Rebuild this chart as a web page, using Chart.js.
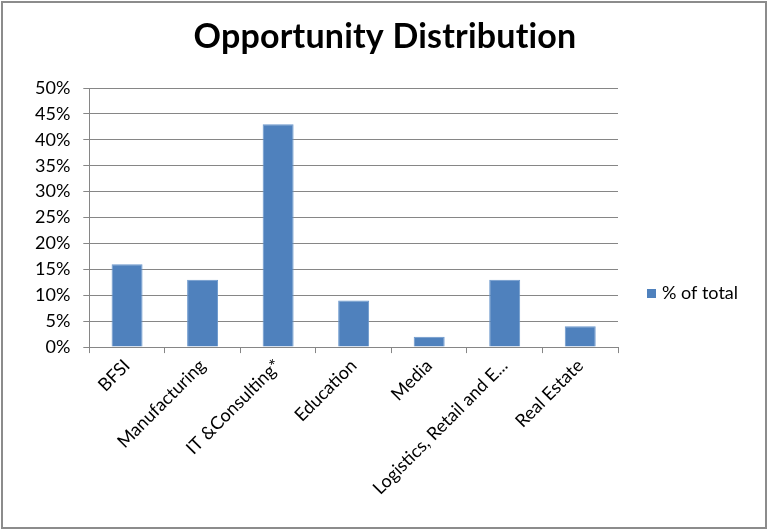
<!DOCTYPE html>
<html>
<head>
<meta charset="utf-8">
<script src="https://cdn.jsdelivr.net/npm/chart.js@4.4.1/dist/chart.umd.min.js"></script>
<style>
    html, body { margin: 0; padding: 0; background: #fff; }
    #wrap { position: relative; width: 769px; height: 531px; }
</style>
</head>
<body>
<div id="wrap"><canvas id="chart" width="769" height="531"></canvas></div>
<script>
// --- DATOS ---
const categories = ['BFSI', 'Manufacturing', 'IT &Consulting*', 'Education', 'Media', 'Logistics, Retail and E...', 'Real Estate'];
const shareOfTotal = [16, 13, 43, 9, 2, 13, 4];
const seriesLabel = '% of total';
const chartTitle = 'Opportunity Distribution';

const FONT = 'Lato, "Open Sans", sans-serif';
const BAR_COLOR = '#4F81BD';
const GRID_COLOR = '#868686';

// Marco gris, título centrado en toda la imagen y leyenda a la derecha
const framePlugin = {
    id: 'frame',
    afterDraw(chart) {
        const ctx = chart.ctx;
        ctx.save();
        ctx.strokeStyle = '#8c8c8c';
        ctx.lineWidth = 2;
        ctx.strokeRect(2, 2, 764, 526);

        // título (sin ligaduras "ti")
        ctx.fillStyle = '#000';
        ctx.font = 'bold 34px ' + FONT;
        ctx.letterSpacing = '0.2px';
        ctx.textAlign = 'center';
        ctx.textBaseline = 'middle';
        ctx.fillText(chartTitle, 385, 37);
        ctx.letterSpacing = '0px';

        // leyenda
        ctx.fillStyle = BAR_COLOR;
        ctx.fillRect(647, 289, 9, 9);
        ctx.fillStyle = '#000';
        ctx.font = '18px ' + FONT;
        ctx.textAlign = 'left';
        ctx.fillText(chart.data.datasets[0].label, 662, 293);
        ctx.restore();
    }
};

new Chart(document.getElementById('chart'), {
    type: 'bar',
    data: {
        labels: categories,
        datasets: [{
            label: seriesLabel,
            data: shareOfTotal,
            backgroundColor: BAR_COLOR,
            borderColor: '#6a97cc',
            borderWidth: 1,
            barPercentage: 0.41,
            categoryPercentage: 1
        }]
    },
    options: {
        responsive: false,
        animation: false,
        layout: { padding: { left: 22, right: 151, top: 88, bottom: 30 } },
        plugins: {
            legend: { display: false },
            tooltip: { enabled: false },
            title: { display: false }
        },
        scales: {
            x: {
                offset: true,
                grid: { display: true, drawOnChartArea: false, drawTicks: true, tickLength: 6, color: GRID_COLOR, offset: true },
                border: { color: GRID_COLOR },
                ticks: {
                    color: '#000',
                    font: { family: FONT, size: 18 },
                    maxRotation: 45,
                    minRotation: 45,
                    autoSkip: false,
                    padding: 2
                }
            },
            y: {
                min: 0,
                max: 50,
                grid: { color: GRID_COLOR, tickLength: 6 },
                border: { color: GRID_COLOR },
                ticks: {
                    stepSize: 5,
                    color: '#000',
                    font: { family: FONT, size: 18 },
                    padding: 13,
                    callback: v => v + '%'
                }
            }
        }
    },
    plugins: [framePlugin]
});
</script>
</body>
</html>
